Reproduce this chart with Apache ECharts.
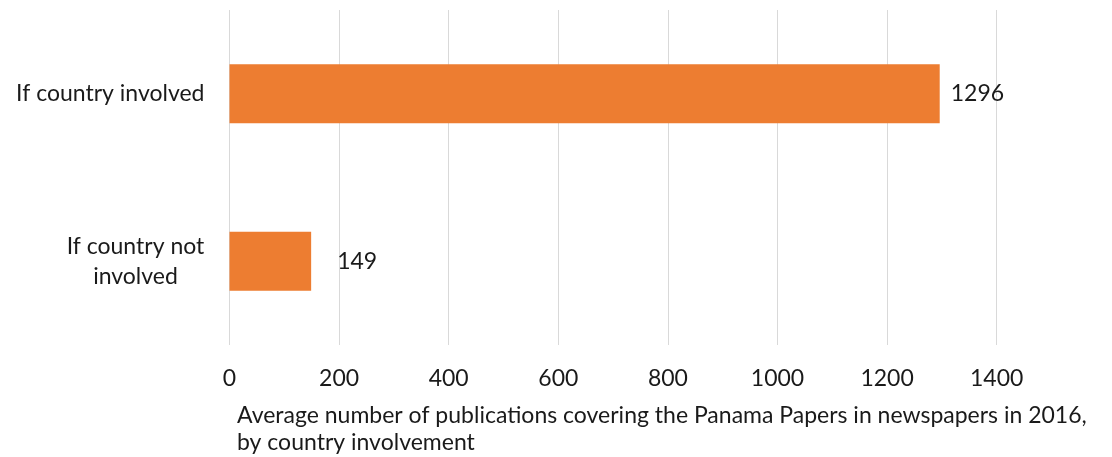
<!DOCTYPE html>
<html><head><meta charset="utf-8">
<script src="https://cdn.jsdelivr.net/npm/echarts@6/dist/echarts.min.js"></script>
<style>html,body{margin:0;padding:0;background:#fff}#c{width:1112px;height:457px}</style>
</head><body><div id="c"></div>
<script>
const categories = ['If country not\ninvolved', 'If country involved'];
const values = [149, 1296];
const xTicks = [0, 200, 400, 600, 800, 1000, 1200, 1400];
const axisTitle = 'Average number of publications covering the Panama Papers in newspapers in 2016,\nby country involvement';
const labelDistances = [26, 11];

const FONT = 'Lato';
const FS = 23;
const chart = echarts.init(document.getElementById('c'));
chart.setOption({
  animation: false,
  grid: { left: 229.5, right: 1112 - 996.7, top: 10, bottom: 457 - 345, containLabel: false },
  title: {
    text: axisTitle, left: 232, top: 397,
    textStyle: { fontFamily: FONT, fontSize: FS, fontWeight: 'normal', color: '#1a1a1a', lineHeight: 27 }
  },
  xAxis: {
    type: 'value', min: xTicks[0], max: xTicks[xTicks.length - 1], interval: 200,
    axisLine: { show: false }, axisTick: { show: false },
    splitLine: { lineStyle: { color: '#d9d9d9', width: 1 } },
    axisLabel: { fontFamily: FONT, fontSize: FS, color: '#1a1a1a', margin: 22, formatter: v => String(v) }
  },
  yAxis: {
    type: 'category', data: categories,
    axisLine: { show: false }, axisTick: { show: false },
    axisLabel: {
      fontFamily: FONT, fontSize: FS, color: '#1a1a1a', margin: 25, lineHeight: 29,
      formatter: function (v) {
        if (v.indexOf('\n') >= 0) return v.split('\n').map(s => '{c|' + s + '}').join('\n');
        return v;
      },
      rich: { c: { fontFamily: FONT, fontSize: FS, color: '#1a1a1a', width: 138, align: 'center', lineHeight: 30 } }
    }
  },
  series: [{
    type: 'bar', barWidth: 59,
    data: values.map((v, i) => ({ value: v, label: { distance: labelDistances[i] } })),
    itemStyle: { color: '#ED7D31' },
    label: { show: true, position: 'right', fontFamily: FONT, fontSize: FS, color: '#1a1a1a' }
  }]
});
</script></body></html>
